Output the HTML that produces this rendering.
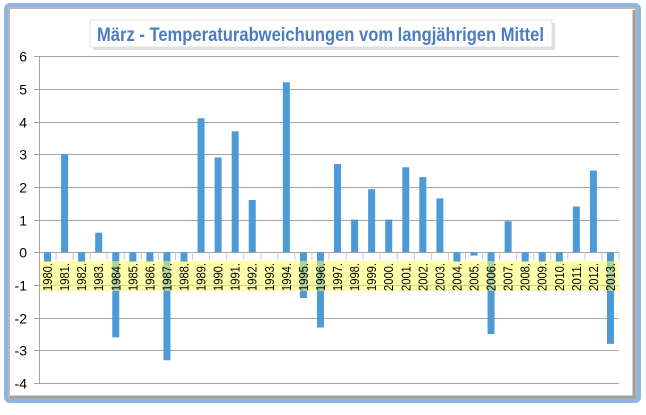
<!DOCTYPE html>
<html><head><meta charset="utf-8"><style>
body{margin:0;background:#fff;width:646px;height:410px;overflow:hidden}
</style></head><body>
<svg width="646" height="410" xmlns="http://www.w3.org/2000/svg" font-family="Liberation Sans, sans-serif">
<rect x="0" y="0" width="646" height="410" fill="#fff"/>
<rect x="6" y="5" width="633" height="396" rx="4" fill="none" stroke="#8fb3e3" stroke-width="4"/>
<rect x="9" y="8" width="627" height="390" fill="none" stroke="#b8b8b8" stroke-width="2"/>
<line x1="10" y1="397" x2="636" y2="397" stroke="#a0a0a0" stroke-width="3"/>
<line x1="634" y1="10" x2="634" y2="397" stroke="#a0a0a0" stroke-width="3"/>
<rect x="93" y="23" width="462" height="27" fill="#c8c8c8" opacity="0.6"/>
<rect x="90" y="20" width="462" height="27" fill="#fff" stroke="#e0e0e0"/>
<text x="97" y="41" font-size="19" font-weight="bold" fill="#4a7cc0" textLength="447" lengthAdjust="spacingAndGlyphs">März - Temperaturabweichungen vom langjährigen Mittel</text>
<g id="grid" stroke="#a6a6a6" stroke-width="1"></g>
<g id="bars" fill="#4d9ad6"></g>
<rect x="39" y="261" width="580" height="30" fill="#ffff66" opacity="0.55"/>
<g id="ticks" stroke="#c8c8c8"></g>
<line x1="39.5" y1="56" x2="39.5" y2="383" stroke="#a6a6a6"/>
<g id="yl" font-size="14" fill="#000" text-anchor="end"></g>
<g id="xl" font-size="12.5" fill="#000"></g>
</svg>
<script>
var ns="http://www.w3.org/2000/svg";
function el(p,t,a,txt){var e=document.createElementNS(ns,t);for(var k in a)e.setAttribute(k,a[k]);if(txt!=null)e.textContent=txt;document.getElementById(p).appendChild(e);}
var z=252.3,u=32.7;
for(var v=-4;v<=6;v++){var y=Math.round(z-v*u)+0.5;el("grid","line",{x1:34,x2:619,y1:y,y2:y});el("yl","text",{x:27,y:y+5},String(v));}
var d=[-0.3,3.0,-0.3,0.6,-2.6,-0.3,-0.3,-3.3,-0.3,4.1,2.9,3.7,1.6,0,5.2,-1.4,-2.3,2.7,1.0,1.93,1.0,2.6,2.3,1.65,-0.3,-0.1,-2.5,0.95,-0.3,-0.3,-0.3,1.4,2.5,-2.8];
var w=580/34;
for(var i=0;i<34;i++){var cx=39+w*(i+0.5),v=d[i];var y0=z,y1=z-v*u;
if(v!=0)el("bars","rect",{x:cx-3.5,y:Math.min(y0,y1),width:7,height:Math.abs(y1-y0)});
el("ticks","line",{x1:39+w*(i+1),x2:39+w*(i+1),y1:252,y2:260});
el("xl","text",{transform:"translate("+(cx+4.5)+",291) rotate(-90)",textLength:28,lengthAdjust:"spacingAndGlyphs"},(1980+i)+".");}
</script>
</body></html>
